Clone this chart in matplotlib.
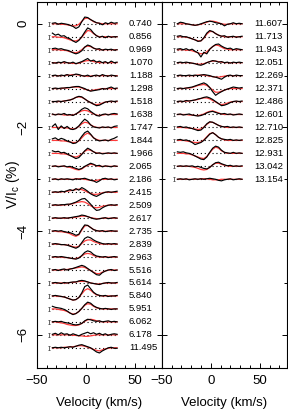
import numpy as np
import matplotlib
matplotlib.use('Agg')
from matplotlib import pyplot as plt

plt.rcParams['font.family'] = ['Liberation Sans', 'DejaVu Sans']
plt.rcParams['mathtext.default'] = 'regular'

# velocity grid of the profiles (km/s)
velocity = [-34, -31, -28, -25, -22, -19, -16, -13, -10, -7, -4, -1,
            2, 5, 8, 11, 14, 17, 20, 23, 26, 29, 32]

# left column: rotational phases, observed Stokes V (%) and model fit (%)
phases_left = ['0.740', '0.856', '0.969', '1.070', '1.188', '1.298', '1.518',
               '1.638', '1.747', '1.844', '1.966', '2.065', '2.186', '2.415',
               '2.509', '2.617', '2.735', '2.839', '2.963', '5.516', '5.614',
               '5.840', '5.951', '6.062', '6.178', '11.495']

obs_left = [
    [0.01, 0.02, -0.01, 0.01, 0.00, -0.01, -0.03, -0.05, -0.09, -0.06, 0.04, 0.13, 0.12, 0.08, 0.05, 0.02, 0.01, -0.02, 0.02, 0.00, 0.03, 0.01, 0.02],
    [0.07, 0.03, 0.05, 0.01, 0.02, -0.02, -0.04, -0.08, -0.11, -0.07, 0.00, 0.09, 0.17, 0.14, 0.07, 0.02, -0.01, 0.01, -0.02, 0.01, -0.01, 0.00, 0.00],
    [0.02, 0.03, 0.01, 0.02, 0.00, -0.01, -0.03, -0.06, -0.08, -0.06, -0.02, 0.05, 0.09, 0.07, 0.03, 0.01, 0.02, -0.01, 0.01, 0.00, 0.01, -0.01, 0.00],
    [0.00, -0.01, 0.01, 0.00, 0.02, 0.00, -0.01, 0.01, -0.02, 0.00, 0.02, 0.05, 0.08, 0.03, 0.05, 0.01, 0.03, 0.00, 0.02, -0.01, 0.03, 0.00, 0.01],
    [0.00, 0.01, -0.01, 0.01, 0.00, 0.02, 0.00, 0.01, 0.03, 0.02, 0.00, -0.01, 0.01, -0.02, 0.00, 0.01, -0.01, 0.02, 0.00, -0.01, 0.01, 0.00, -0.01],
    [0.00, 0.01, 0.00, 0.01, 0.01, 0.02, 0.02, 0.03, 0.04, 0.04, 0.02, 0.00, -0.03, -0.05, -0.04, -0.03, -0.02, 0.00, -0.01, 0.01, 0.03, 0.00, 0.01],
    [0.00, 0.00, 0.01, 0.00, 0.01, 0.02, 0.03, 0.05, 0.08, 0.10, 0.09, 0.05, 0.01, -0.02, -0.05, -0.08, -0.07, -0.04, -0.01, 0.00, 0.01, 0.00, 0.01],
    [0.01, -0.01, 0.01, 0.00, 0.02, -0.01, 0.00, -0.02, 0.01, 0.05, 0.10, 0.13, 0.11, 0.06, 0.02, -0.02, -0.03, 0.00, 0.01, -0.01, 0.01, 0.02, 0.01],
    [0.02, 0.07, -0.04, 0.03, -0.02, 0.02, -0.03, -0.04, -0.02, 0.03, 0.10, 0.16, 0.12, 0.05, 0.01, 0.00, -0.01, 0.01, 0.00, 0.01, -0.01, 0.02, 0.03],
    [0.03, 0.05, 0.01, 0.04, 0.02, -0.01, -0.03, -0.06, -0.05, 0.00, 0.08, 0.15, 0.18, 0.12, 0.05, 0.01, -0.01, 0.00, 0.01, -0.01, 0.02, 0.04, 0.07],
    [0.05, 0.03, 0.04, 0.01, 0.02, -0.01, -0.04, -0.07, -0.10, -0.08, -0.02, 0.05, 0.10, 0.07, 0.03, 0.00, 0.01, -0.01, 0.00, 0.01, 0.00, 0.01, 0.00],
    [0.00, 0.01, -0.01, 0.00, 0.01, -0.01, 0.00, -0.02, -0.04, -0.06, -0.04, 0.00, 0.03, 0.06, 0.04, 0.01, 0.02, -0.01, 0.01, 0.00, -0.01, 0.01, 0.00],
    [0.00, 0.01, -0.01, 0.01, 0.00, 0.01, 0.00, -0.01, 0.01, 0.00, 0.01, 0.02, 0.00, -0.02, -0.03, -0.06, -0.03, 0.01, 0.02, 0.00, 0.01, -0.01, 0.00],
    [0.00, 0.01, 0.00, 0.02, 0.01, 0.03, 0.05, 0.03, 0.07, 0.04, 0.09, 0.06, 0.02, -0.03, -0.06, -0.08, -0.05, -0.02, 0.00, 0.01, 0.00, 0.01, 0.02],
    [0.00, 0.01, 0.00, 0.01, 0.01, 0.02, 0.02, 0.04, 0.06, 0.09, 0.12, 0.13, 0.08, 0.02, -0.05, -0.10, -0.09, -0.05, -0.02, 0.00, 0.01, 0.00, 0.01],
    [0.00, 0.01, 0.00, 0.00, 0.01, 0.00, 0.01, 0.02, 0.03, 0.04, 0.06, 0.05, 0.03, 0.01, -0.01, -0.02, -0.01, 0.00, 0.01, -0.01, 0.00, 0.01, 0.00],
    [0.00, 0.01, 0.00, 0.01, -0.01, -0.02, -0.03, -0.05, -0.08, -0.06, 0.04, 0.12, 0.11, 0.07, 0.03, 0.01, 0.00, 0.01, -0.01, 0.00, 0.01, 0.00, 0.00],
    [0.00, 0.01, 0.00, -0.01, -0.01, -0.02, -0.04, -0.06, -0.08, -0.05, 0.03, 0.11, 0.14, 0.12, 0.08, 0.05, 0.03, 0.01, 0.00, 0.01, 0.00, 0.01, 0.00],
    [0.00, 0.01, 0.00, 0.01, 0.00, -0.01, -0.02, -0.03, -0.04, -0.02, 0.03, 0.09, 0.12, 0.10, 0.05, 0.02, 0.01, 0.00, 0.01, -0.01, 0.00, 0.01, 0.00],
    [0.00, 0.01, -0.01, 0.01, 0.02, 0.00, 0.02, 0.03, 0.05, 0.07, 0.09, 0.07, 0.03, -0.01, -0.05, -0.09, -0.10, -0.05, -0.02, 0.00, 0.01, -0.01, 0.00],
    [0.00, 0.01, 0.00, -0.01, 0.01, 0.00, 0.01, 0.02, 0.02, 0.04, 0.05, 0.04, 0.02, 0.00, -0.01, -0.02, -0.03, -0.01, 0.00, 0.01, 0.00, 0.00, 0.01],
    [0.00, 0.01, 0.00, -0.01, -0.02, -0.04, -0.06, -0.08, -0.07, -0.03, 0.06, 0.18, 0.21, 0.14, 0.07, 0.03, 0.01, 0.00, 0.01, -0.01, 0.00, 0.00, 0.01],
    [0.05, 0.03, 0.02, 0.01, -0.01, -0.04, -0.08, -0.11, -0.09, -0.05, 0.01, 0.08, 0.13, 0.11, 0.06, 0.03, 0.01, 0.00, 0.01, 0.00, -0.01, 0.00, 0.00],
    [0.00, 0.01, 0.00, 0.01, -0.01, -0.02, -0.03, -0.05, -0.06, -0.05, -0.03, 0.02, 0.05, 0.04, 0.02, 0.01, 0.02, 0.00, 0.01, 0.02, 0.00, 0.01, 0.00],
    [0.01, 0.03, 0.00, 0.04, 0.01, 0.02, -0.01, 0.02, 0.00, -0.02, 0.01, 0.03, 0.05, 0.02, 0.04, 0.01, 0.03, 0.00, 0.02, -0.01, 0.01, 0.02, 0.01],
    [0.00, 0.01, 0.00, 0.01, 0.00, 0.01, 0.02, 0.01, 0.03, 0.05, 0.06, 0.04, 0.02, 0.00, -0.04, -0.08, -0.10, -0.06, -0.03, 0.00, 0.01, -0.01, -0.01],
]

fit_left = [
    [0.00, 0.00, 0.00, -0.01, -0.01, -0.02, -0.03, -0.04, -0.04, -0.01, 0.05, 0.10, 0.11, 0.08, 0.04, 0.02, 0.01, 0.00, 0.00, 0.00, 0.00, 0.00, 0.00],
    [0.00, 0.00, -0.01, -0.01, -0.02, -0.04, -0.06, -0.08, -0.08, -0.06, -0.01, 0.06, 0.12, 0.11, 0.06, 0.02, 0.00, 0.00, 0.00, 0.00, 0.00, 0.00, 0.00],
    [0.00, 0.00, 0.00, -0.01, -0.01, -0.02, -0.04, -0.05, -0.06, -0.04, 0.00, 0.05, 0.07, 0.06, 0.03, 0.01, 0.00, 0.00, 0.00, 0.00, 0.00, 0.00, 0.00],
    [0.00, 0.00, 0.00, 0.00, 0.00, 0.00, -0.01, -0.01, -0.02, -0.01, 0.01, 0.03, 0.04, 0.04, 0.02, 0.01, 0.00, 0.00, 0.00, 0.00, 0.00, 0.00, 0.00],
    [0.00, 0.00, 0.00, 0.00, 0.00, 0.01, 0.01, 0.02, 0.02, 0.01, 0.00, -0.01, -0.01, -0.01, 0.00, 0.00, 0.00, 0.00, 0.00, 0.00, 0.00, 0.00, 0.00],
    [0.00, 0.00, 0.00, 0.00, 0.01, 0.01, 0.02, 0.03, 0.03, 0.03, 0.01, -0.01, -0.03, -0.04, -0.03, -0.02, -0.01, 0.00, 0.00, 0.00, 0.00, 0.00, 0.00],
    [0.00, 0.00, 0.00, 0.00, 0.01, 0.02, 0.03, 0.05, 0.08, 0.09, 0.08, 0.05, 0.01, -0.02, -0.05, -0.06, -0.05, -0.03, -0.01, 0.00, 0.00, 0.00, 0.00],
    [0.00, 0.00, 0.00, 0.00, -0.01, -0.01, -0.01, -0.01, 0.01, 0.04, 0.07, 0.08, 0.07, 0.04, 0.01, -0.01, -0.02, -0.01, 0.00, 0.00, 0.00, 0.00, 0.00],
    [0.00, 0.00, 0.00, 0.00, -0.01, -0.01, -0.02, -0.03, -0.02, 0.02, 0.07, 0.10, 0.09, 0.05, 0.02, 0.00, 0.00, 0.00, 0.00, 0.00, 0.00, 0.00, 0.00],
    [0.00, 0.00, 0.00, -0.01, -0.01, -0.02, -0.03, -0.04, -0.04, -0.01, 0.05, 0.11, 0.14, 0.11, 0.05, 0.02, 0.00, 0.00, 0.00, 0.00, 0.00, 0.00, 0.00],
    [0.00, 0.00, 0.00, -0.01, -0.01, -0.02, -0.04, -0.06, -0.07, -0.05, -0.01, 0.04, 0.07, 0.06, 0.03, 0.01, 0.00, 0.00, 0.00, 0.00, 0.00, 0.00, 0.00],
    [0.00, 0.00, 0.00, 0.00, 0.00, -0.01, -0.02, -0.04, -0.06, -0.07, -0.05, -0.01, 0.02, 0.04, 0.03, 0.01, 0.00, 0.00, 0.00, 0.00, 0.00, 0.00, 0.00],
    [0.00, 0.00, 0.00, 0.00, 0.00, 0.00, 0.00, 0.00, 0.01, 0.01, 0.01, 0.00, -0.01, -0.02, -0.03, -0.02, -0.01, 0.00, 0.00, 0.00, 0.00, 0.00, 0.00],
    [0.00, 0.00, 0.00, 0.01, 0.01, 0.02, 0.03, 0.04, 0.05, 0.06, 0.05, 0.03, 0.00, -0.02, -0.04, -0.04, -0.03, -0.01, 0.00, 0.00, 0.00, 0.00, 0.00],
    [0.00, 0.00, 0.00, 0.00, 0.01, 0.01, 0.02, 0.03, 0.05, 0.06, 0.07, 0.06, 0.03, -0.01, -0.04, -0.05, -0.04, -0.02, -0.01, 0.00, 0.00, 0.00, 0.00],
    [0.00, 0.00, 0.00, 0.00, 0.00, 0.00, 0.01, 0.01, 0.02, 0.03, 0.04, 0.04, 0.03, 0.01, 0.00, -0.01, -0.01, 0.00, 0.00, 0.00, 0.00, 0.00, 0.00],
    [0.00, 0.00, -0.01, -0.01, -0.02, -0.03, -0.05, -0.08, -0.10, -0.07, 0.02, 0.10, 0.11, 0.07, 0.03, 0.01, 0.00, 0.00, 0.00, 0.00, 0.00, 0.00, 0.00],
    [0.00, 0.00, 0.00, -0.01, -0.01, -0.02, -0.03, -0.05, -0.06, -0.04, 0.01, 0.06, 0.08, 0.08, 0.05, 0.03, 0.01, 0.00, 0.00, 0.00, 0.00, 0.00, 0.00],
    [0.00, 0.00, 0.00, 0.00, -0.01, -0.01, -0.02, -0.03, -0.03, -0.01, 0.02, 0.06, 0.07, 0.06, 0.03, 0.01, 0.00, 0.00, 0.00, 0.00, 0.00, 0.00, 0.00],
    [0.00, 0.00, 0.00, 0.00, 0.01, 0.01, 0.02, 0.03, 0.04, 0.05, 0.06, 0.05, 0.02, -0.01, -0.04, -0.07, -0.07, -0.04, -0.02, 0.00, 0.00, 0.00, 0.00],
    [0.00, 0.00, 0.00, 0.00, 0.00, 0.00, 0.01, 0.01, 0.02, 0.03, 0.03, 0.03, 0.02, 0.00, -0.01, -0.02, -0.02, -0.01, 0.00, 0.00, 0.00, 0.00, 0.00],
    [0.00, 0.00, -0.01, -0.01, -0.02, -0.04, -0.06, -0.08, -0.07, -0.03, 0.04, 0.11, 0.14, 0.11, 0.06, 0.02, 0.01, 0.00, 0.00, 0.00, 0.00, 0.00, 0.00],
    [0.00, 0.00, -0.01, -0.02, -0.03, -0.05, -0.08, -0.10, -0.09, -0.05, 0.01, 0.07, 0.10, 0.09, 0.05, 0.02, 0.01, 0.00, 0.00, 0.00, 0.00, 0.00, 0.00],
    [0.00, 0.00, -0.01, -0.02, -0.03, -0.05, -0.06, -0.07, -0.07, -0.06, -0.03, 0.01, 0.04, 0.05, 0.04, 0.02, 0.01, 0.00, 0.00, 0.00, 0.00, 0.00, 0.00],
    [0.00, 0.00, 0.00, 0.00, 0.00, 0.00, 0.00, -0.01, -0.01, -0.02, -0.02, -0.03, -0.03, -0.02, -0.01, 0.00, 0.00, 0.00, 0.00, 0.00, 0.00, 0.00, 0.00],
    [0.00, 0.00, 0.00, 0.00, 0.01, 0.01, 0.02, 0.02, 0.03, 0.04, 0.04, 0.03, 0.01, -0.01, -0.03, -0.05, -0.06, -0.04, -0.02, -0.01, 0.00, 0.00, 0.00],
]

# right column
phases_right = ['11.607', '11.713', '11.943', '12.051', '12.269', '12.371',
                '12.486', '12.601', '12.710', '12.825', '12.931', '13.042',
                '13.154']

obs_right = [
    [0.00, 0.03, 0.02, 0.00, -0.01, -0.02, -0.03, -0.02, 0.00, 0.02, 0.04, 0.05, 0.04, 0.02, 0.01, 0.00, -0.04, -0.01, 0.00, 0.02, 0.00, 0.01, 0.00],
    [0.01, 0.02, 0.00, 0.00, -0.02, -0.04, -0.06, -0.09, -0.08, -0.02, 0.07, 0.12, 0.10, 0.06, 0.03, 0.01, 0.02, -0.01, 0.00, 0.01, -0.01, 0.00, 0.01],
    [0.01, 0.02, 0.00, 0.02, -0.01, 0.01, -0.03, -0.06, -0.14, -0.05, -0.08, 0.01, 0.06, 0.10, 0.11, 0.07, 0.04, 0.02, 0.03, 0.00, 0.02, 0.01, 0.00],
    [0.00, 0.01, 0.00, 0.01, 0.00, -0.01, -0.02, -0.04, -0.05, -0.03, 0.00, 0.02, 0.04, 0.03, 0.01, 0.02, 0.00, 0.01, -0.01, 0.01, 0.00, 0.01, 0.00],
    [0.00, 0.01, 0.00, 0.00, 0.01, 0.00, 0.01, 0.00, 0.01, 0.02, 0.01, 0.00, -0.02, -0.03, -0.05, -0.07, -0.03, 0.00, 0.01, -0.01, 0.01, 0.00, 0.00],
    [0.00, 0.01, 0.00, 0.01, 0.02, 0.03, 0.05, 0.07, 0.09, 0.11, 0.08, 0.02, -0.06, -0.13, -0.09, -0.06, -0.03, -0.01, 0.01, 0.03, 0.02, 0.01, 0.02],
    [0.00, 0.01, 0.00, 0.02, 0.01, 0.02, 0.03, 0.05, 0.06, 0.08, 0.09, 0.07, 0.04, 0.00, -0.04, -0.08, -0.07, -0.05, -0.02, 0.00, 0.01, 0.00, 0.01],
    [0.00, 0.01, -0.01, 0.00, 0.01, -0.01, -0.02, -0.03, -0.02, 0.00, 0.03, 0.05, 0.06, 0.04, 0.02, 0.01, 0.02, 0.00, 0.01, -0.01, 0.00, 0.01, 0.00],
    [0.01, 0.02, 0.00, 0.01, -0.01, -0.02, -0.04, -0.06, -0.05, 0.00, 0.07, 0.11, 0.10, 0.07, 0.04, 0.02, 0.01, 0.02, 0.00, 0.01, 0.00, 0.01, 0.00],
    [0.01, 0.02, 0.00, 0.01, -0.01, -0.04, -0.08, -0.06, -0.04, 0.00, 0.06, 0.12, 0.15, 0.11, 0.06, 0.03, 0.02, 0.01, 0.02, 0.00, 0.01, 0.00, 0.01],
    [0.03, 0.02, 0.03, 0.01, 0.00, -0.02, -0.05, -0.08, -0.11, -0.12, -0.07, 0.02, 0.10, 0.14, 0.12, 0.06, 0.02, 0.01, 0.00, 0.02, 0.00, 0.01, 0.00],
    [0.00, 0.01, 0.00, 0.01, 0.00, 0.01, -0.01, 0.00, -0.02, -0.04, -0.05, -0.02, 0.03, 0.07, 0.08, 0.05, 0.03, 0.01, 0.02, 0.00, 0.01, 0.00, 0.01],
    [0.00, 0.01, 0.00, 0.01, -0.01, 0.00, 0.01, 0.00, 0.01, 0.00, 0.01, 0.02, 0.01, 0.00, -0.02, -0.03, -0.01, 0.00, 0.01, -0.01, 0.00, 0.01, 0.00],
]

fit_right = [
    [0.00, 0.00, 0.00, 0.00, -0.01, -0.02, -0.03, -0.02, -0.01, 0.01, 0.03, 0.05, 0.05, 0.04, 0.02, 0.00, -0.01, -0.01, 0.00, 0.00, 0.00, 0.00, 0.00],
    [0.00, 0.00, 0.00, -0.01, -0.02, -0.04, -0.06, -0.08, -0.08, -0.03, 0.05, 0.10, 0.10, 0.06, 0.03, 0.01, 0.00, 0.00, 0.00, 0.00, 0.00, 0.00, 0.00],
    [0.00, 0.00, 0.00, -0.01, -0.01, -0.02, -0.04, -0.06, -0.08, -0.07, -0.04, 0.01, 0.06, 0.09, 0.08, 0.05, 0.02, 0.01, 0.00, 0.00, 0.00, 0.00, 0.00],
    [0.00, 0.00, 0.00, 0.00, 0.00, -0.01, -0.02, -0.03, -0.03, -0.02, 0.00, 0.02, 0.03, 0.03, 0.02, 0.01, 0.00, 0.00, 0.00, 0.00, 0.00, 0.00, 0.00],
    [0.00, 0.00, 0.00, 0.00, 0.00, 0.00, 0.00, 0.01, 0.01, 0.01, 0.00, -0.01, -0.02, -0.03, -0.03, -0.02, -0.01, 0.00, 0.00, 0.00, 0.00, 0.00, 0.00],
    [0.00, 0.00, 0.00, 0.01, 0.01, 0.02, 0.04, 0.06, 0.07, 0.08, 0.06, 0.02, -0.03, -0.07, -0.07, -0.05, -0.03, -0.01, 0.00, 0.00, 0.00, 0.00, 0.00],
    [0.00, 0.00, 0.00, 0.01, 0.01, 0.02, 0.03, 0.04, 0.06, 0.07, 0.07, 0.05, 0.02, -0.01, -0.04, -0.06, -0.05, -0.03, -0.01, 0.00, 0.00, 0.00, 0.00],
    [0.00, 0.00, 0.00, 0.00, -0.01, -0.01, -0.02, -0.02, -0.01, 0.01, 0.04, 0.06, 0.07, 0.05, 0.03, 0.01, 0.00, 0.00, 0.00, 0.00, 0.00, 0.00, 0.00],
    [0.00, 0.00, 0.00, -0.01, -0.01, -0.02, -0.03, -0.04, -0.03, 0.01, 0.06, 0.10, 0.10, 0.07, 0.04, 0.02, 0.01, 0.00, 0.00, 0.00, 0.00, 0.00, 0.00],
    [0.00, 0.00, 0.00, -0.01, -0.02, -0.03, -0.04, -0.04, -0.03, 0.01, 0.07, 0.13, 0.15, 0.11, 0.06, 0.03, 0.01, 0.00, 0.00, 0.00, 0.00, 0.00, 0.00],
    [0.00, 0.00, 0.00, -0.01, -0.01, -0.03, -0.05, -0.07, -0.09, -0.10, -0.06, 0.01, 0.08, 0.12, 0.10, 0.05, 0.02, 0.00, 0.00, 0.00, 0.00, 0.00, 0.00],
    [0.00, 0.00, 0.00, 0.00, 0.00, -0.01, -0.02, -0.04, -0.06, -0.07, -0.06, -0.02, 0.03, 0.06, 0.06, 0.04, 0.02, 0.01, 0.00, 0.00, 0.00, 0.00, 0.00],
    [0.00, 0.00, 0.00, 0.00, 0.00, 0.00, 0.00, 0.00, 0.01, 0.01, 0.01, 0.00, -0.01, -0.01, -0.01, 0.00, 0.00, 0.00, 0.00, 0.00, 0.00, 0.00, 0.00],
]

sigma = 0.035   # error bar drawn left of each profile (%)
step = 0.25     # vertical shift between successive profiles


def draw_column(ax, phases, obs, fit):
    v = np.array(velocity)
    for i, (ph, o, f) in enumerate(zip(phases, obs, fit)):
        y0 = -step * i
        ax.plot([v[0], v[-1]], [y0, y0], color='k', ls=(0, (1, 2.5)), lw=0.8)
        ax.errorbar(-37.5, y0, yerr=sigma, color='0.3', lw=0.6,
                    capsize=0.8, capthick=0.6)
        ax.plot(v, np.array(f) + y0, color='#ff3b3b', lw=0.9)
        ax.plot(v, np.array(o) + y0, color='k', lw=0.85)
        ax.text(44, y0, ph, fontsize=6.8, va='center', ha='left')

    ax.set_xlim(-50, 77.5)
    ax.set_ylim(-6.64, 0.42)
    ax.set_xticks([-50, 0, 50])
    ax.set_xticks(np.arange(-50, 80, 10), minor=True)
    ax.set_yticks([0, -2, -4, -6])
    ax.set_yticks(np.arange(-6, 1, 1), minor=True)
    ax.tick_params(which='both', direction='in', top=True, right=True,
                   width=0.7, labelsize=9.5, pad=5)
    ax.tick_params(which='major', length=3.8)
    ax.tick_params(which='minor', length=2.2)
    ax.tick_params(axis='y', labelrotation=90)
    for s in ax.spines.values():
        s.set_linewidth(0.8)
    ax.set_xlabel('Velocity (km/s)', fontsize=9.5, labelpad=7)


fig = plt.figure(figsize=(2.88, 4.12), dpi=100)
ax1 = fig.add_axes([36.7 / 288, 1 - 368 / 412, 125 / 288, 366 / 412])
ax2 = fig.add_axes([161.7 / 288, 1 - 368 / 412, 125 / 288, 366 / 412])

draw_column(ax1, phases_left, obs_left, fit_left)
draw_column(ax2, phases_right, obs_right, fit_right)
ax2.tick_params(labelleft=False)
for lab in ax1.get_yticklabels():
    lab.set_va('center')
ax1.set_ylabel('V/I$_c$ (%)', fontsize=10, va='center')
ax1.yaxis.set_label_coords(-0.19, 0.5)

plt.savefig('out.png', dpi=100)
